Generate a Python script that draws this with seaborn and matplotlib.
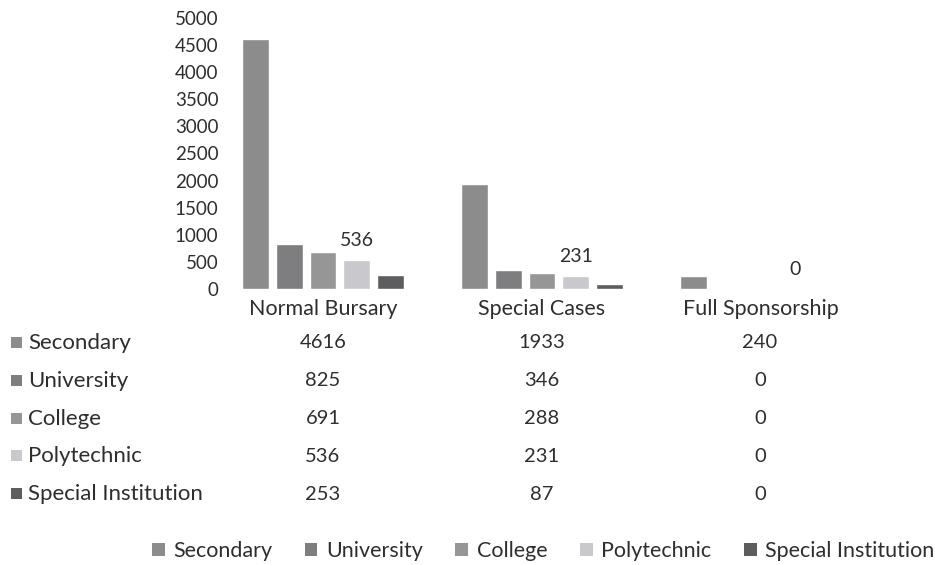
import matplotlib
matplotlib.use("Agg")
import matplotlib.pyplot as plt
from matplotlib.patches import Rectangle
import seaborn as sns
import pandas as pd

# Bursary figures by programme and institution type
programmes = ["Normal Bursary", "Special Cases", "Full Sponsorship"]
institutions = ["Secondary", "University", "College", "Polytechnic", "Special Institution"]
secondary = [4616, 1933, 240]
university = [825, 346, 0]
college = [691, 288, 0]
polytechnic = [536, 231, 0]
special_institution = [253, 87, 0]
y_ticks = [0, 500, 1000, 1500, 2000, 2500, 3000, 3500, 4000, 4500, 5000]

series = [secondary, university, college, polytechnic, special_institution]
colors = ["#8c8c8c", "#7e7e80", "#969696", "#c9c9cd", "#5d5d5f"]
text_color = "#2e2e2e"

rows = []
for inst, vals in zip(institutions, series):
    for prog, v in zip(programmes, vals):
        rows.append({"Programme": prog, "Institution": inst, "Count": v})
df = pd.DataFrame(rows)

sns.set_theme(style="white")
plt.rcParams["font.family"] = ["Lato", "DejaVu Sans"]

W, H = 935, 565
fig = plt.figure(figsize=(W / 100, H / 100), dpi=100)
ax_left, ax_right = 213.5, 870.5
ax_top, ax_bottom = 18, 289
ax = fig.add_axes([ax_left / W, 1 - ax_bottom / H,
                   (ax_right - ax_left) / W, (ax_bottom - ax_top) / H])

sns.barplot(data=df, x="Programme", y="Count", hue="Institution",
            hue_order=institutions, order=programmes, palette=colors,
            width=0.77, gap=0.2, saturation=1, legend=False, ax=ax)

ax.set_ylim(0, 5000)
ax.set_xlim(-0.5, 2.5)
ax.set_yticks(y_ticks)
ax.set_yticklabels([str(t) for t in y_ticks])
ax.tick_params(axis="y", length=0, pad=-3.5, labelsize=13.5, labelcolor=text_color)
ax.tick_params(axis="x", length=0, pad=7, labelsize=15.5, labelcolor=text_color)
ax.set_xlabel("")
ax.set_ylabel("")
for s in ax.spines.values():
    s.set_visible(False)

# Value labels for the Polytechnic series
poly_container = ax.containers[institutions.index("Polytechnic")]
ax.bar_label(poly_container, labels=[str(v) for v in polytechnic],
             padding=8, fontsize=14, color=text_color)

# Data table beneath the chart
row_y = [343, 381, 419, 456, 494]
col_x = [323, 542, 760]
for inst, vals, col, ry in zip(institutions, series, colors, row_y):
    fig.patches.append(Rectangle((11 / W, 1 - (ry + 5) / H), 11 / W, 11 / H,
                                 transform=fig.transFigure, facecolor=col,
                                 edgecolor="none"))
    fig.text(28 / W, 1 - ry / H, inst, ha="left", va="center",
             fontsize=16, color=text_color)
    for cx, v in zip(col_x, vals):
        fig.text(cx / W, 1 - ry / H, str(v), ha="center", va="center",
                 fontsize=14.5, color=text_color)

# Legend along the bottom
handles = [Rectangle((0, 0), 1, 1, facecolor=c, edgecolor="none") for c in colors]
fig.legend(handles, institutions, loc="center", bbox_to_anchor=(543 / W, 1 - 551 / H),
           ncol=5, frameon=False, fontsize=15.5, handlelength=0.6, handleheight=0.6,
           handletextpad=0.4, columnspacing=1.5, labelcolor=text_color)

fig.savefig("out.png", dpi=100, facecolor="white")
